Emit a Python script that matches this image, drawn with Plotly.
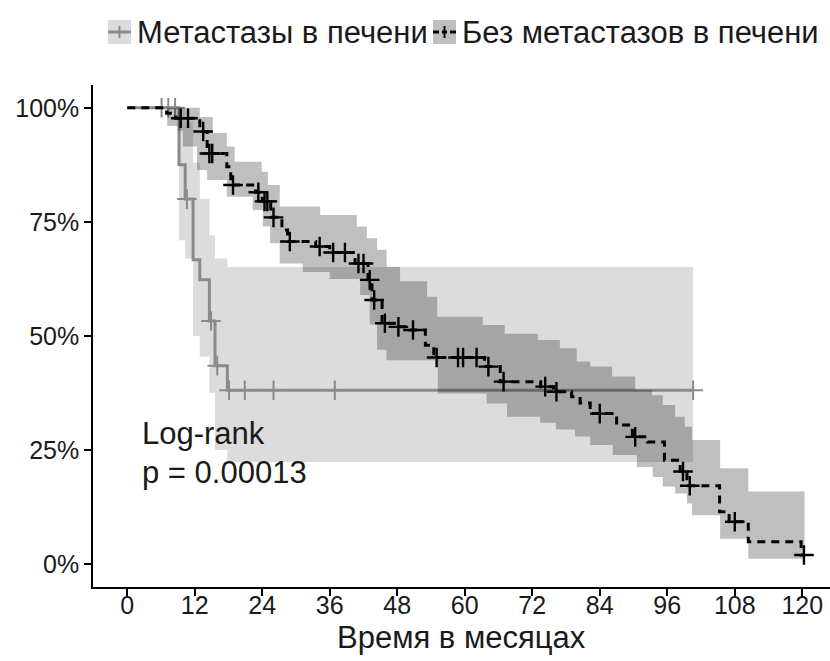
import plotly.graph_objects as go

# ---- survival data (months, % surviving) ----
# Group 1: liver metastases
met_t = [0, 9.2, 10.3, 11.7, 12.9, 14.6, 15.6, 17.8, 100.6]
met_s = [100, 87.5, 80.0, 66.7, 62.3, 53.3, 43.5, 38.1, 38.1]
met_cens_t = [6.1, 7.3, 8.5, 10.6, 14.9, 16.0, 18.1, 20.9, 26.0, 36.9, 100.6]
met_cens_s = [100, 100, 100, 80.0, 53.3, 43.5, 38.1, 38.1, 38.1, 38.1, 38.1]
met_up_t = [0, 10.3, 11.7, 12.9, 14.6, 15.6, 17.8, 100.6]
met_up_s = [100, 97, 88, 80, 72, 67, 65.1, 65.1]
met_lo_t = [0, 9.2, 10.3, 11.7, 12.9, 14.6, 15.6, 17.8, 100.6]
met_lo_s = [100, 71, 67, 50, 45.5, 37.5, 25, 22.4, 22.4]

# Group 2: no liver metastases
nomet_t = [0, 7.0, 8.6, 12.9, 14.2, 17.7, 18.4, 22.8, 24.0, 25.5, 27.5, 28.5,
           33.5, 36.0, 40.5, 42.8, 43.5, 45.3, 47.5, 50.3, 53.0, 54.5, 63.5,
           66.3, 73.5, 75.8, 79.0, 80.5, 82.3, 87.0, 89.8, 92.5, 95.5, 98.3,
           99.5, 105.3, 107.0, 110.4, 119.8, 120.3]
nomet_s = [100, 98.8, 97.7, 94.8, 90.0, 87.1, 83.1, 81.5, 79.5, 76.0, 73.2, 70.7,
           69.6, 68.3, 65.9, 62.3, 57.9, 52.8, 52.0, 51.3, 48.0, 45.3, 43.3,
           40.0, 38.9, 37.8, 36.7, 35.3, 33.0, 30.5, 27.9, 26.8, 22.8, 20.3,
           17.2, 11.5, 9.3, 4.9, 2.0, 2.0]
nomet_cens_t = [9.5, 10.8, 13.5, 14.6, 15.1, 18.8, 23.3, 24.4, 24.9, 26.0, 28.9,
                34.2, 36.6, 38.7, 41.1, 42.0, 43.1, 43.9, 45.8, 48.2, 50.8, 55.0,
                58.8, 59.7, 62.1, 64.2, 66.9, 74.3, 76.3, 84.0, 90.3, 98.8, 100.0,
                108.0, 120.3]
nomet_cens_s = [97.7, 97.7, 94.8, 90.0, 90.0, 83.1, 81.5, 79.5, 79.5, 76.0, 70.7,
                69.6, 68.3, 68.3, 65.9, 65.9, 62.3, 57.9, 52.8, 52.0, 51.3, 45.3,
                45.3, 45.3, 45.3, 43.3, 40.0, 38.9, 37.8, 33.0, 27.9, 20.3, 17.2,
                9.3, 2.0]
nomet_up_t = [0, 12.9, 15.2, 17.7, 19.1, 23.9, 25.0, 27.1, 34.3, 40.8, 42.6, 44.4,
              46.1, 48.5, 53.3, 55.1, 63.2, 67.1, 73.0, 76.9, 79.9, 82.3, 86.2,
              90.3, 93.3, 95.2, 97.4, 99.1, 100.4, 105.4, 110.4, 120.4]
nomet_up_s = [100, 98, 94.5, 91.5, 88.2, 86, 83.1, 78.4, 76.5, 74, 71.4, 68.9,
              65.2, 62, 58.6, 54.2, 52.4, 50.5, 49.1, 47.3, 44.4, 43.3, 41.1,
              38.2, 37, 34.9, 32.3, 30.1, 27.2, 21, 15.9, 15.9]
nomet_lo_t = [0, 7.1, 9.0, 9.9, 12.4, 14.2, 17.7, 22.3, 24.1, 25.4, 27.1, 31.2,
              36.0, 41.4, 43.1, 44.4, 46.1, 55.2, 63.9, 67.5, 73.4, 76.2, 79.6,
              82.3, 86.3, 90.6, 93.4, 95.2, 97.4, 99.5, 100.4, 105.4, 110.4, 120.4]
nomet_lo_s = [100, 96, 95, 91.5, 86.4, 84.2, 80.5, 77.6, 74, 70.3, 65.9, 64,
              62.5, 59, 52.5, 47, 44.7, 37.4, 35.2, 32.3, 31, 29.5, 28,
              26.1, 23.9, 21.3, 19.1, 17, 15.5, 13.3, 10.7, 5.6, 1.2, 1.2]

x_ticks = [0, 12, 24, 36, 48, 60, 72, 84, 96, 108, 120]
y_ticks = [0, 25, 50, 75, 100]
y_tick_labels = ["0%", "25%", "50%", "75%", "100%"]
legend_labels = ["Метастазы в печени", "Без метастазов в печени"]
x_title = "Время в месяцах"
test_text = ["Log-rank", "p = 0.00013"]

# ---- styling ----
W, H = 830, 661
ML, MR, MT, MB = 93, 0, 85, 74
FONT = "Liberation Sans, Arial, sans-serif"
TXT = "#1a1a1a"
GREY_LINE = "#8a8a8a"
GREY_FILL = "rgba(128,128,128,0.28)"
BLACK_FILL = "rgba(0,0,0,0.25)"
GREY_KEY = "#dbdbdb"
BLACK_KEY = "#bfbfbf"

fig = go.Figure()


def add_group(t, s, up_t, up_s, lo_t, lo_s, ct, cs, line_color, fill, dash, cens_w):
    fig.add_trace(go.Scatter(x=up_t, y=up_s, mode="lines", line=dict(width=0, shape="hv"),
                             hoverinfo="skip", showlegend=False))
    fig.add_trace(go.Scatter(x=lo_t, y=lo_s, mode="lines", line=dict(width=0, shape="hv"),
                             fill="tonexty", fillcolor=fill, hoverinfo="skip", showlegend=False))
    fig.add_trace(go.Scatter(x=t, y=s, mode="lines",
                             line=dict(color=line_color, width=3, shape="hv", dash=dash),
                             showlegend=False))
    fig.add_trace(go.Scatter(x=ct, y=cs, mode="markers",
                             marker=dict(symbol="cross-thin", size=14,
                                         line=dict(color=line_color, width=cens_w)),
                             showlegend=False))


add_group(met_t, met_s, met_up_t, met_up_s, met_lo_t, met_lo_s,
          met_cens_t, met_cens_s, GREY_LINE, GREY_FILL, "solid", 2)
add_group(nomet_t, nomet_s, nomet_up_t, nomet_up_s, nomet_lo_t, nomet_lo_s,
          nomet_cens_t, nomet_cens_s, "#000000", BLACK_FILL, "8px,6px", 2.4)

# plot-area geometry helpers for the hand-built legend
PW, PH = W - ML - MR, H - MT - MB


def px(xp):
    return (xp - ML) / PW


def py(yp):
    return (H - MB - yp) / PH


shapes = []
annotations = []
keys = [(108, GREY_KEY, GREY_LINE, "solid", legend_labels[0]),
        (433, BLACK_KEY, "#000000", "dash", legend_labels[1])]
for x0, keyfill, lc, dsh, lab in keys:
    shapes.append(dict(type="rect", xref="paper", yref="paper",
                       x0=px(x0), x1=px(x0 + 23), y0=py(44), y1=py(20),
                       fillcolor=keyfill, line=dict(width=0), layer="above"))
    if dsh == "solid":
        shapes.append(dict(type="line", xref="paper", yref="paper",
                           x0=px(x0), x1=px(x0 + 23), y0=py(32), y1=py(32),
                           line=dict(color=lc, width=3)))
    else:
        for a, b in [(x0, x0 + 6), (x0 + 9, x0 + 14), (x0 + 17, x0 + 23)]:
            shapes.append(dict(type="line", xref="paper", yref="paper",
                               x0=px(a), x1=px(b), y0=py(32), y1=py(32),
                               line=dict(color=lc, width=3)))
    shapes.append(dict(type="line", xref="paper", yref="paper",
                       x0=px(x0 + 11.5), x1=px(x0 + 11.5), y0=py(26), y1=py(38),
                       line=dict(color=lc, width=2)))
    annotations.append(dict(text=lab, xref="paper", yref="paper",
                            x=px(x0 + 27), y=py(32), xanchor="left", yanchor="middle",
                            showarrow=False, font=dict(family=FONT, size=31, color=TXT)))

annotations.append(dict(text=test_text[0], x=2.2, y=28.7, xanchor="left", yanchor="middle",
                        showarrow=False, font=dict(family=FONT, size=31, color=TXT)))
annotations.append(dict(text=test_text[1], x=2.2, y=20.2, xanchor="left", yanchor="middle",
                        showarrow=False, font=dict(family=FONT, size=31, color=TXT)))

# x-axis title placed as text beneath the tick labels
annotations.append(dict(text=x_title, xref="paper", yref="paper",
                        x=0.5, y=py(637), xanchor="center", yanchor="middle",
                        showarrow=False, font=dict(family=FONT, size=31, color=TXT)))

fig.update_layout(
    width=W, height=H,
    margin=dict(l=ML, r=MR, t=MT, b=MB),
    paper_bgcolor="white", plot_bgcolor="white",
    showlegend=False,
    shapes=shapes, annotations=annotations,
    xaxis=dict(range=[-6.09, 124.93], tickvals=x_ticks, ticks="outside", ticklen=7,
               tickwidth=1.5, tickcolor="#000", showline=True, linecolor="#000",
               linewidth=1.5, showgrid=False, zeroline=False, ticklabelstandoff=-12,
               tickfont=dict(family=FONT, size=25, color=TXT)),
    yaxis=dict(range=[-5, 105], tickvals=y_ticks, ticktext=y_tick_labels, ticks="outside",
               ticklen=7, tickwidth=1.5, tickcolor="#000", showline=True, linecolor="#000",
               linewidth=1.5, showgrid=False, zeroline=False,
               tickfont=dict(family=FONT, size=25, color=TXT)),
)

fig.write_html("out.html")
